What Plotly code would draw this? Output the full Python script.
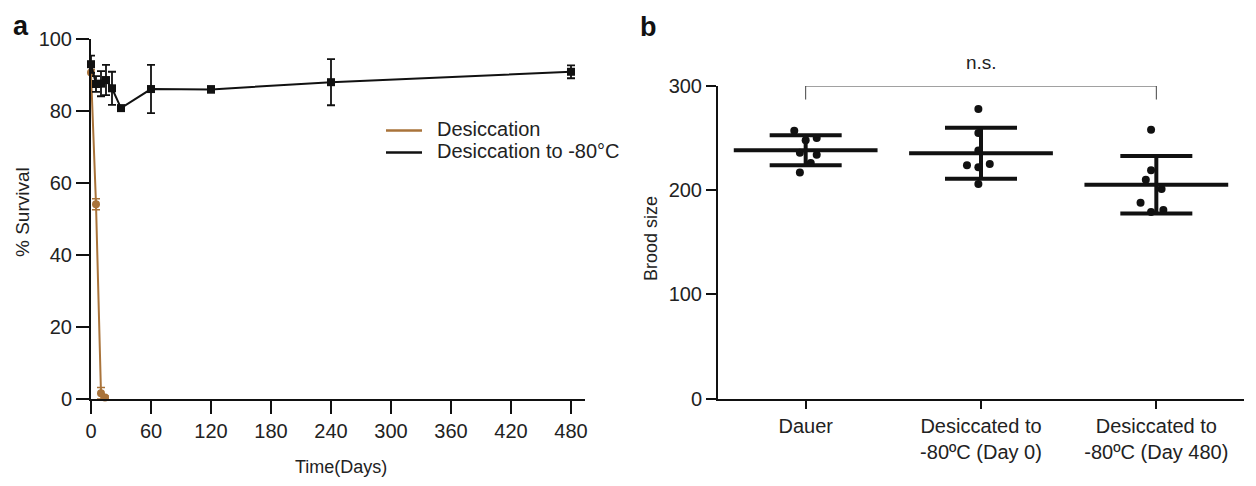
import plotly.graph_objects as go

# panel a: % survival over time
days_desic = [0, 5, 10, 14]
surv_desic = [90.7, 54.1, 1.6, 0.4]
err_desic = [0.8, 1.5, 1.6, 0.4]

days_frozen = [0, 5, 10, 15, 21, 30, 60, 120, 240, 480]
surv_frozen = [93.0, 87.5, 87.6, 88.6, 86.3, 80.8, 86.1, 86.0, 88.0, 90.9]
err_frozen = [2.4, 2.2, 3.5, 4.2, 4.6, 0.0, 6.7, 0.9, 6.4, 1.8]

time_ticks = [0, 60, 120, 180, 240, 300, 360, 420, 480]
series_names = ["Desiccation", "Desiccation to -80°C"]

# panel b: brood size
groups = ["Dauer", "Desiccated to<br>-80ºC (Day 0)", "Desiccated to<br>-80ºC (Day 480)"]
brood_pts = [
    [257, 248, 250, 236, 234, 226, 217],
    [278, 255, 238, 224, 225, 222, 206],
    [258, 219, 210, 201, 188, 179, 181],
]
brood_jitter = [
    [-0.065, 0.0, 0.063, -0.033, 0.063, 0.029, -0.033],
    [-0.015, -0.015, -0.015, -0.08, 0.05, -0.015, -0.015],
    [-0.03, -0.03, -0.06, 0.03, -0.09, -0.03, 0.04],
]
brood_mean = [238.3, 235.4, 205.2]
brood_sd = [14.3, 24.4, 27.6]

BROWN = "#A9733A"
INK = "#111111"
TXT = "#222222"
FONT = "Liberation Sans, Arial, Helvetica, sans-serif"

# page body has an 8px margin, so the figure is drawn 8px smaller and offset
OFF = 8
W, H = 1256 - OFF, 486 - OFF


def px(x):
    return (x - OFF) / W


def py(y):
    return (H - (y - OFF)) / H


fig = go.Figure()

# --- panel a ---
fig.add_trace(go.Scatter(
    x=days_desic, y=surv_desic, mode="lines+markers", name=series_names[0],
    line=dict(color=BROWN, width=2),
    marker=dict(symbol="circle", size=8, color=BROWN),
    error_y=dict(type="data", array=err_desic, color=BROWN, thickness=1.5, width=4),
    showlegend=False, cliponaxis=False, xaxis="x", yaxis="y"))
fig.add_trace(go.Scatter(
    x=days_frozen, y=surv_frozen, mode="lines+markers", name=series_names[1],
    line=dict(color=INK, width=2),
    marker=dict(symbol="square", size=8, color=INK),
    error_y=dict(type="data", array=err_frozen, color=INK, thickness=1.8, width=4),
    showlegend=False, cliponaxis=False, xaxis="x", yaxis="y"))

# --- panel b ---
for i, pts in enumerate(brood_pts):
    fig.add_trace(go.Scatter(
        x=[i + j for j in brood_jitter[i]], y=pts, mode="markers",
        marker=dict(size=8, color=INK), showlegend=False,
        cliponaxis=False, xaxis="x2", yaxis="y2"))

# mean (horizontal bar) +/- SD
fig.add_trace(go.Scatter(
    x=list(range(len(groups))), y=brood_mean, mode="markers",
    marker=dict(size=1, color="rgba(0,0,0,0)"),
    error_y=dict(type="data", array=brood_sd, color=INK, thickness=4, width=36),
    error_x=dict(type="constant", value=0.41, color=INK, thickness=4, width=0),
    showlegend=False, cliponaxis=False, xaxis="x2", yaxis="y2"))

axis_common = dict(
    showline=True, linecolor=INK, linewidth=2, ticks="outside",
    tickcolor=INK, tickwidth=2, showgrid=False, zeroline=False,
    automargin=False,
    tickfont=dict(size=20, color=TXT, family=FONT),
)

# hand-drawn legend (line samples + labels)
legend_rows = [(130.5, BROWN), (152.5, INK)]
shapes = [dict(type="line", xref="paper", yref="paper",
               x0=px(386), x1=px(422), y0=py(yy), y1=py(yy),
               line=dict(color=c, width=2.5)) for yy, c in legend_rows]
shapes.append(dict(type="path", xref="x2", yref="y2",
                   path="M 0 287 L 0 300 L 2 300 L 2 287",
                   line=dict(color="#444444", width=1)))

annotations = [
    dict(text=name, x=px(435), y=py(yy - 1.5), xref="paper", yref="paper",
         xanchor="left", yanchor="middle", showarrow=False,
         font=dict(size=20, color=TXT))
    for name, (yy, _) in zip(series_names, legend_rows)
]
annotations += [
    dict(text="n.s.", x=1, y=300, xref="x2", yref="y2", yshift=24,
         showarrow=False, font=dict(size=19, color=TXT)),
    dict(text="<b>a</b>", x=px(12), y=py(26), xref="paper", yref="paper",
         xanchor="left", yanchor="middle", showarrow=False, borderpad=0,
         font=dict(size=27, color=INK)),
    dict(text="<b>b</b>", x=px(639), y=py(27), xref="paper", yref="paper",
         xanchor="left", yanchor="middle", showarrow=False, borderpad=0,
         font=dict(size=27, color=INK)),
    # axis titles
    dict(text="Time(Days)", x=px(341), y=py(467), xref="paper", yref="paper",
         xanchor="center", yanchor="middle", showarrow=False,
         font=dict(size=18, color=TXT)),
    dict(text="% Survival", x=px(22), y=py(212), xref="paper", yref="paper",
         xanchor="center", yanchor="middle", textangle=-90, showarrow=False,
         font=dict(size=19, color=TXT)),
    dict(text="Brood size", x=px(651), y=py(238), xref="paper", yref="paper",
         xanchor="center", yanchor="middle", textangle=-90, showarrow=False,
         font=dict(size=18, color=TXT)),
]

fig.update_layout(
    width=W, height=H, margin=dict(l=0, r=0, t=0, b=0, autoexpand=False),
    paper_bgcolor="white", plot_bgcolor="white", showlegend=False,
    font=dict(family=FONT, color=TXT),
    xaxis=dict(domain=[px(91), px(585)], range=[0, 494], tickvals=time_ticks,
               ticklen=13, anchor="y", **axis_common),
    yaxis=dict(domain=[py(399), py(39)], range=[0, 100],
               tickvals=[0, 20, 40, 60, 80, 100], ticklen=13, anchor="x",
               **axis_common),
    xaxis2=dict(domain=[px(718), px(1244)], range=[-0.5, 2.5],
                tickvals=list(range(len(groups))), ticktext=groups,
                ticklen=8, anchor="y2", **axis_common),
    yaxis2=dict(domain=[py(398.5), py(86)], range=[0, 300],
                tickvals=[0, 100, 200, 300], ticklen=10, anchor="x2",
                **axis_common),
    shapes=shapes,
    annotations=annotations,
)

fig.write_html("out.html")
